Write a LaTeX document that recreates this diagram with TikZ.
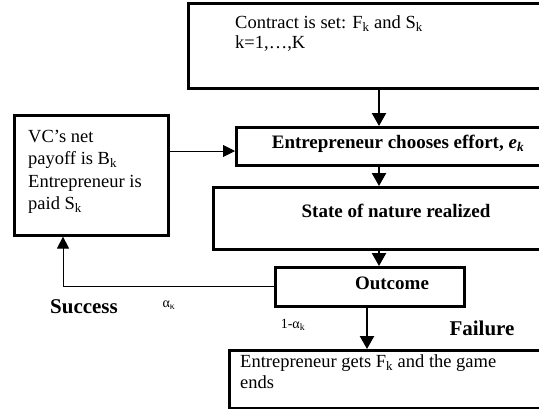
\documentclass[tikz,border=0pt]{standalone}
\usepackage{fontspec}
\setmainfont{Liberation Serif}
\usetikzlibrary{arrows.meta}
\begin{document}
\begin{tikzpicture}[x=1pt,y=-1pt,
  box/.style={draw, line width=2.6pt, inner sep=0pt, anchor=north west},
  body/.style={inner sep=0pt, anchor=north west, align=left},
  boldtxt/.style={inner sep=0pt, anchor=base, font=\fontsize{19}{22}\selectfont\bfseries},
  biglabel/.style={inner sep=0pt, anchor=base, font=\fontsize{21}{24}\selectfont\bfseries},
  smalllabel/.style={inner sep=0pt, anchor=base, font=\fontsize{14}{16}\selectfont},
  thickarr/.style={line width=2.4pt, -{Triangle[width=14pt,length=13pt]}},
  thinarr/.style={line width=0.9pt, -{Triangle[width=12pt,length=12pt]}}]
\useasboundingbox (0,0) rectangle (539,408);
\clip (0,0) rectangle (539,408);

% boxes
\node[box, minimum width=380pt, minimum height=85pt] (top) at (187,2) {};
\node[box, minimum width=154pt, minimum height=120pt] (left) at (13,114) {};
\node[box, minimum width=330pt, minimum height=38pt] (effort) at (235,126) {};
\node[box, minimum width=350pt, minimum height=62pt] (state) at (212,186) {};
\node[box, minimum width=189pt, minimum height=39pt] (outcome) at (274,266) {};
\node[box, minimum width=340pt, minimum height=58pt] (bottom) at (228,349) {};

% texts
\node[body, font=\fontsize{18.5}{19.5}\selectfont] (toptxt) at (235,15.5)
  {Contract is set: F\textsubscript{k} and S\textsubscript{k}\\ k=1,…,K};
\node[body, font=\fontsize{18.5}{22.6}\selectfont] (lefttxt) at (28,129.5)
  {VC’s net\\ payoff is B\textsubscript{k}\\ Entrepreneur is\\ paid S\textsubscript{k}};
\node[boldtxt] (efforttxt) at (398,148)
  {Entrepreneur chooses effort, \textit{e}\textsubscript{\textit{k}}};
\node[boldtxt] (statetxt) at (396,217) {State of nature realized};
\node[boldtxt] (outcometxt) at (392,289) {Outcome};
\node[body, font=\fontsize{18.5}{21}\selectfont] (bottomtxt) at (240,354.5)
  {Entrepreneur gets F\textsubscript{k} and the game\\ ends};

\node[biglabel] (success) at (84,313) {Success};
\node[biglabel] (failure) at (482,335) {Failure};
\node[smalllabel] (alpha) at (169,307) {α\textsubscript{κ}};
\node[smalllabel] (oneminus) at (293,328) {1-α\textsubscript{k}};

% connectors
\coordinate (ax) at (379,0);
\coordinate (bx) at (367,0);
\coordinate (ly) at (0,151);
\coordinate (sx) at (63,0);
\draw[thickarr] (top.south -| ax) -- (effort.north -| ax);
\draw[thickarr] (effort.south -| ax) -- (state.north -| ax);
\draw[thickarr] (state.south -| ax) -- (outcome.north -| ax);
\draw[thickarr] (outcome.south -| bx) -- (bottom.north -| bx);
\draw[thinarr] (left.east |- ly) -- (effort.west |- ly);
\draw[thinarr] (outcome.west) -- (outcome.west -| sx) -- (left.south -| sx);
\end{tikzpicture}
\end{document}
